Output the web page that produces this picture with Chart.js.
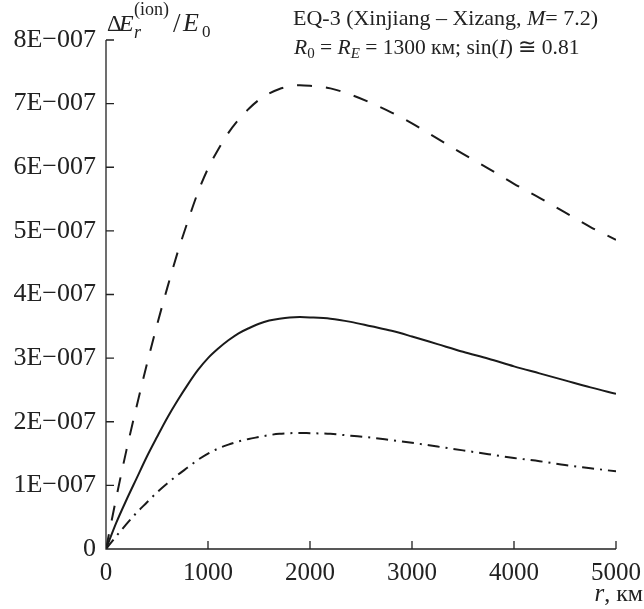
<!DOCTYPE html>
<html>
<head>
<meta charset="utf-8">
<script src="https://cdn.jsdelivr.net/npm/chart.js@4/dist/chart.umd.min.js"></script>
<style>
  html, body { margin: 0; padding: 0; background: #fff; }
  #wrap { width: 644px; height: 609px; }
</style>
</head>
<body>
<div id="wrap"><canvas id="fieldChart" width="644" height="609"></canvas></div>
<script>
// r, km
const rKm = [0, 100, 200, 300, 400, 500, 600, 700, 800, 900, 1000, 1100, 1200, 1300, 1400, 1500,
  1600, 1700, 1800, 1900, 2000, 2200, 2400, 2600, 2800, 3000, 3250, 3500, 3750, 4000, 4250,
  4500, 4750, 5000];
// dE_r(ion)/E0, in units of 1E-007
const dashedE = [0, 0.80, 1.55, 2.24, 2.90, 3.52, 4.10, 4.65, 5.14, 5.60, 5.98, 6.28, 6.54, 6.75,
  6.92, 7.06, 7.16, 7.23, 7.27, 7.29, 7.28, 7.24, 7.14, 7.01, 6.86, 6.69, 6.45, 6.21, 5.98, 5.74,
  5.52, 5.29, 5.06, 4.86];
const solidE = [0, 0.41, 0.77, 1.11, 1.45, 1.76, 2.06, 2.33, 2.58, 2.81, 3.00, 3.15, 3.28, 3.39,
  3.47, 3.54, 3.59, 3.62, 3.64, 3.645, 3.64, 3.62, 3.57, 3.50, 3.43, 3.34, 3.22, 3.10, 2.99, 2.87,
  2.76, 2.65, 2.54, 2.44];
const dashDotE = [0, 0.20, 0.39, 0.57, 0.73, 0.89, 1.03, 1.16, 1.28, 1.40, 1.50, 1.58, 1.64, 1.69,
  1.73, 1.76, 1.79, 1.81, 1.82, 1.825, 1.82, 1.81, 1.78, 1.75, 1.71, 1.67, 1.61, 1.55, 1.49, 1.43,
  1.38, 1.32, 1.27, 1.22];

const xTicks = [0, 1000, 2000, 3000, 4000, 5000];
const yTickLabels = ['0', '1E\u2212007', '2E\u2212007', '3E\u2212007', '4E\u2212007',
  '5E\u2212007', '6E\u2212007', '7E\u2212007', '8E\u2212007'];

const SERIF = '"Liberation Serif", "DejaVu Serif", serif';

function toPoints(ys) {
  return rKm.map((r, i) => ({ x: r, y: ys[i] }));
}

function setFont(ctx, italic, size) {
  ctx.font = (italic ? 'italic ' : '') + size + 'px ' + SERIF;
}

// pieces: [text, italic, size, baseline shift]; drawn one after another
function drawRuns(ctx, x, y, runs) {
  let cx = x;
  for (const [text, italic, size, dy] of runs) {
    setFont(ctx, italic, size);
    ctx.fillText(text, cx, y + dy);
    cx += ctx.measureText(text).width;
  }
  return cx - x;
}

function runsWidth(ctx, runs) {
  let w = 0;
  for (const [text, italic, size] of runs) {
    setFont(ctx, italic, size);
    w += ctx.measureText(text).width;
  }
  return w;
}

const axesPlugin = {
  id: 'axesPlugin',
  afterDraw(chart) {
    const ctx = chart.ctx;
    const xs = chart.scales.x;
    const ys = chart.scales.y;
    const x0 = xs.getPixelForValue(0), x1 = xs.getPixelForValue(5000);
    const y0 = ys.getPixelForValue(0), y1 = ys.getPixelForValue(8);
    ctx.save();
    ctx.strokeStyle = '#222';
    ctx.lineWidth = 1.3;
    ctx.beginPath();
    ctx.moveTo(x0, y1);
    ctx.lineTo(x0, y0);
    ctx.lineTo(x1, y0);
    ctx.stroke();
    ctx.beginPath();
    for (let v = 1; v <= 8; v++) {
      const py = ys.getPixelForValue(v);
      ctx.moveTo(x0, py);
      ctx.lineTo(x0 + 8, py);
    }
    for (const v of xTicks.slice(1)) {
      const px = xs.getPixelForValue(v);
      ctx.moveTo(px, y0);
      ctx.lineTo(px, y0 - 8);
    }
    ctx.stroke();

    ctx.fillStyle = '#222';
    ctx.textAlign = 'left';
    ctx.textBaseline = 'alphabetic';

    // y-axis title: ΔE_r^(ion)/E_0
    setFont(ctx, false, 23); ctx.fillText('\u0394', 107, 31);
    setFont(ctx, true, 24); ctx.fillText('E', 119, 31);
    setFont(ctx, false, 18); ctx.fillText('(ion)', 134, 15);
    setFont(ctx, true, 18); ctx.fillText('r', 134, 38);
    setFont(ctx, false, 27); ctx.fillText('/', 173, 32);
    setFont(ctx, true, 26); ctx.fillText('E', 183, 31);
    setFont(ctx, false, 17); ctx.fillText('0', 202, 37);

    // annotation
    drawRuns(ctx, 293, 25, [
      ['EQ-3 (Xinjiang \u2013 Xizang, ', false, 22, 0],
      ['M', true, 22, 0],
      ['= 7.2)', false, 22, 0]
    ]);
    drawRuns(ctx, 294, 54, [
      ['R', true, 21.5, 0],
      ['0', false, 15, 4],
      [' = ', false, 21.5, 0],
      ['R', true, 21.5, 0],
      ['E', true, 15, 4],
      [' = 1300 \u043a\u043c; sin(', false, 21.5, 0],
      ['I', true, 21.5, 0],
      [') \u2245 0.81', false, 21.5, 0]
    ]);
    // x-axis title, right aligned
    const xTitle = [
      ['r', true, 25, 0],
      [', \u043a\u043c', false, 24, 0]
    ];
    drawRuns(ctx, 643 - runsWidth(ctx, xTitle), 601, xTitle);
    ctx.restore();
  }
};

const ctx = document.getElementById('fieldChart').getContext('2d');
new Chart(ctx, {
  type: 'line',
  data: {
    datasets: [
      {
        label: 'dashed',
        data: toPoints(dashedE),
        borderColor: '#1a1a1a',
        borderWidth: 2,
        borderDash: [15, 14],
        pointRadius: 0,
        cubicInterpolationMode: 'monotone',
        fill: false
      },
      {
        label: 'solid',
        data: toPoints(solidE),
        borderColor: '#1a1a1a',
        borderWidth: 2,
        pointRadius: 0,
        cubicInterpolationMode: 'monotone',
        fill: false
      },
      {
        label: 'dash-dot',
        data: toPoints(dashDotE),
        borderColor: '#1a1a1a',
        borderWidth: 2,
        borderDash: [12, 6, 2, 6],
        pointRadius: 0,
        cubicInterpolationMode: 'monotone',
        fill: false
      }
    ]
  },
  options: {
    responsive: false,
    animation: false,
    layout: { padding: { top: 40, right: 28, left: 0, bottom: 0 } },
    plugins: {
      legend: { display: false },
      tooltip: { enabled: false }
    },
    scales: {
      x: {
        type: 'linear',
        min: 0,
        max: 5000,
        afterFit(s) { s.height = 60; s.paddingLeft = 0; s.paddingRight = 0; },
        afterBuildTicks(s) { s.ticks = xTicks.map(v => ({ value: v })); },
        grid: { display: false, drawTicks: false },
        border: { display: false },
        ticks: {
          autoSkip: false,
          maxRotation: 0,
          padding: 9,
          color: '#222',
          font: { family: SERIF, size: 25 },
          callback: v => String(v)
        }
      },
      y: {
        type: 'linear',
        min: 0,
        max: 8,
        afterFit(s) { s.width = 106; s.paddingTop = 0; s.paddingBottom = 0; },
        grid: { display: false, drawTicks: false },
        border: { display: false },
        ticks: {
          stepSize: 1,
          autoSkip: false,
          padding: 10,
          color: '#222',
          font: { family: SERIF, size: 26 },
          callback: v => yTickLabels[Math.round(v)]
        }
      }
    }
  },
  plugins: [axesPlugin]
});
</script>
</body>
</html>
